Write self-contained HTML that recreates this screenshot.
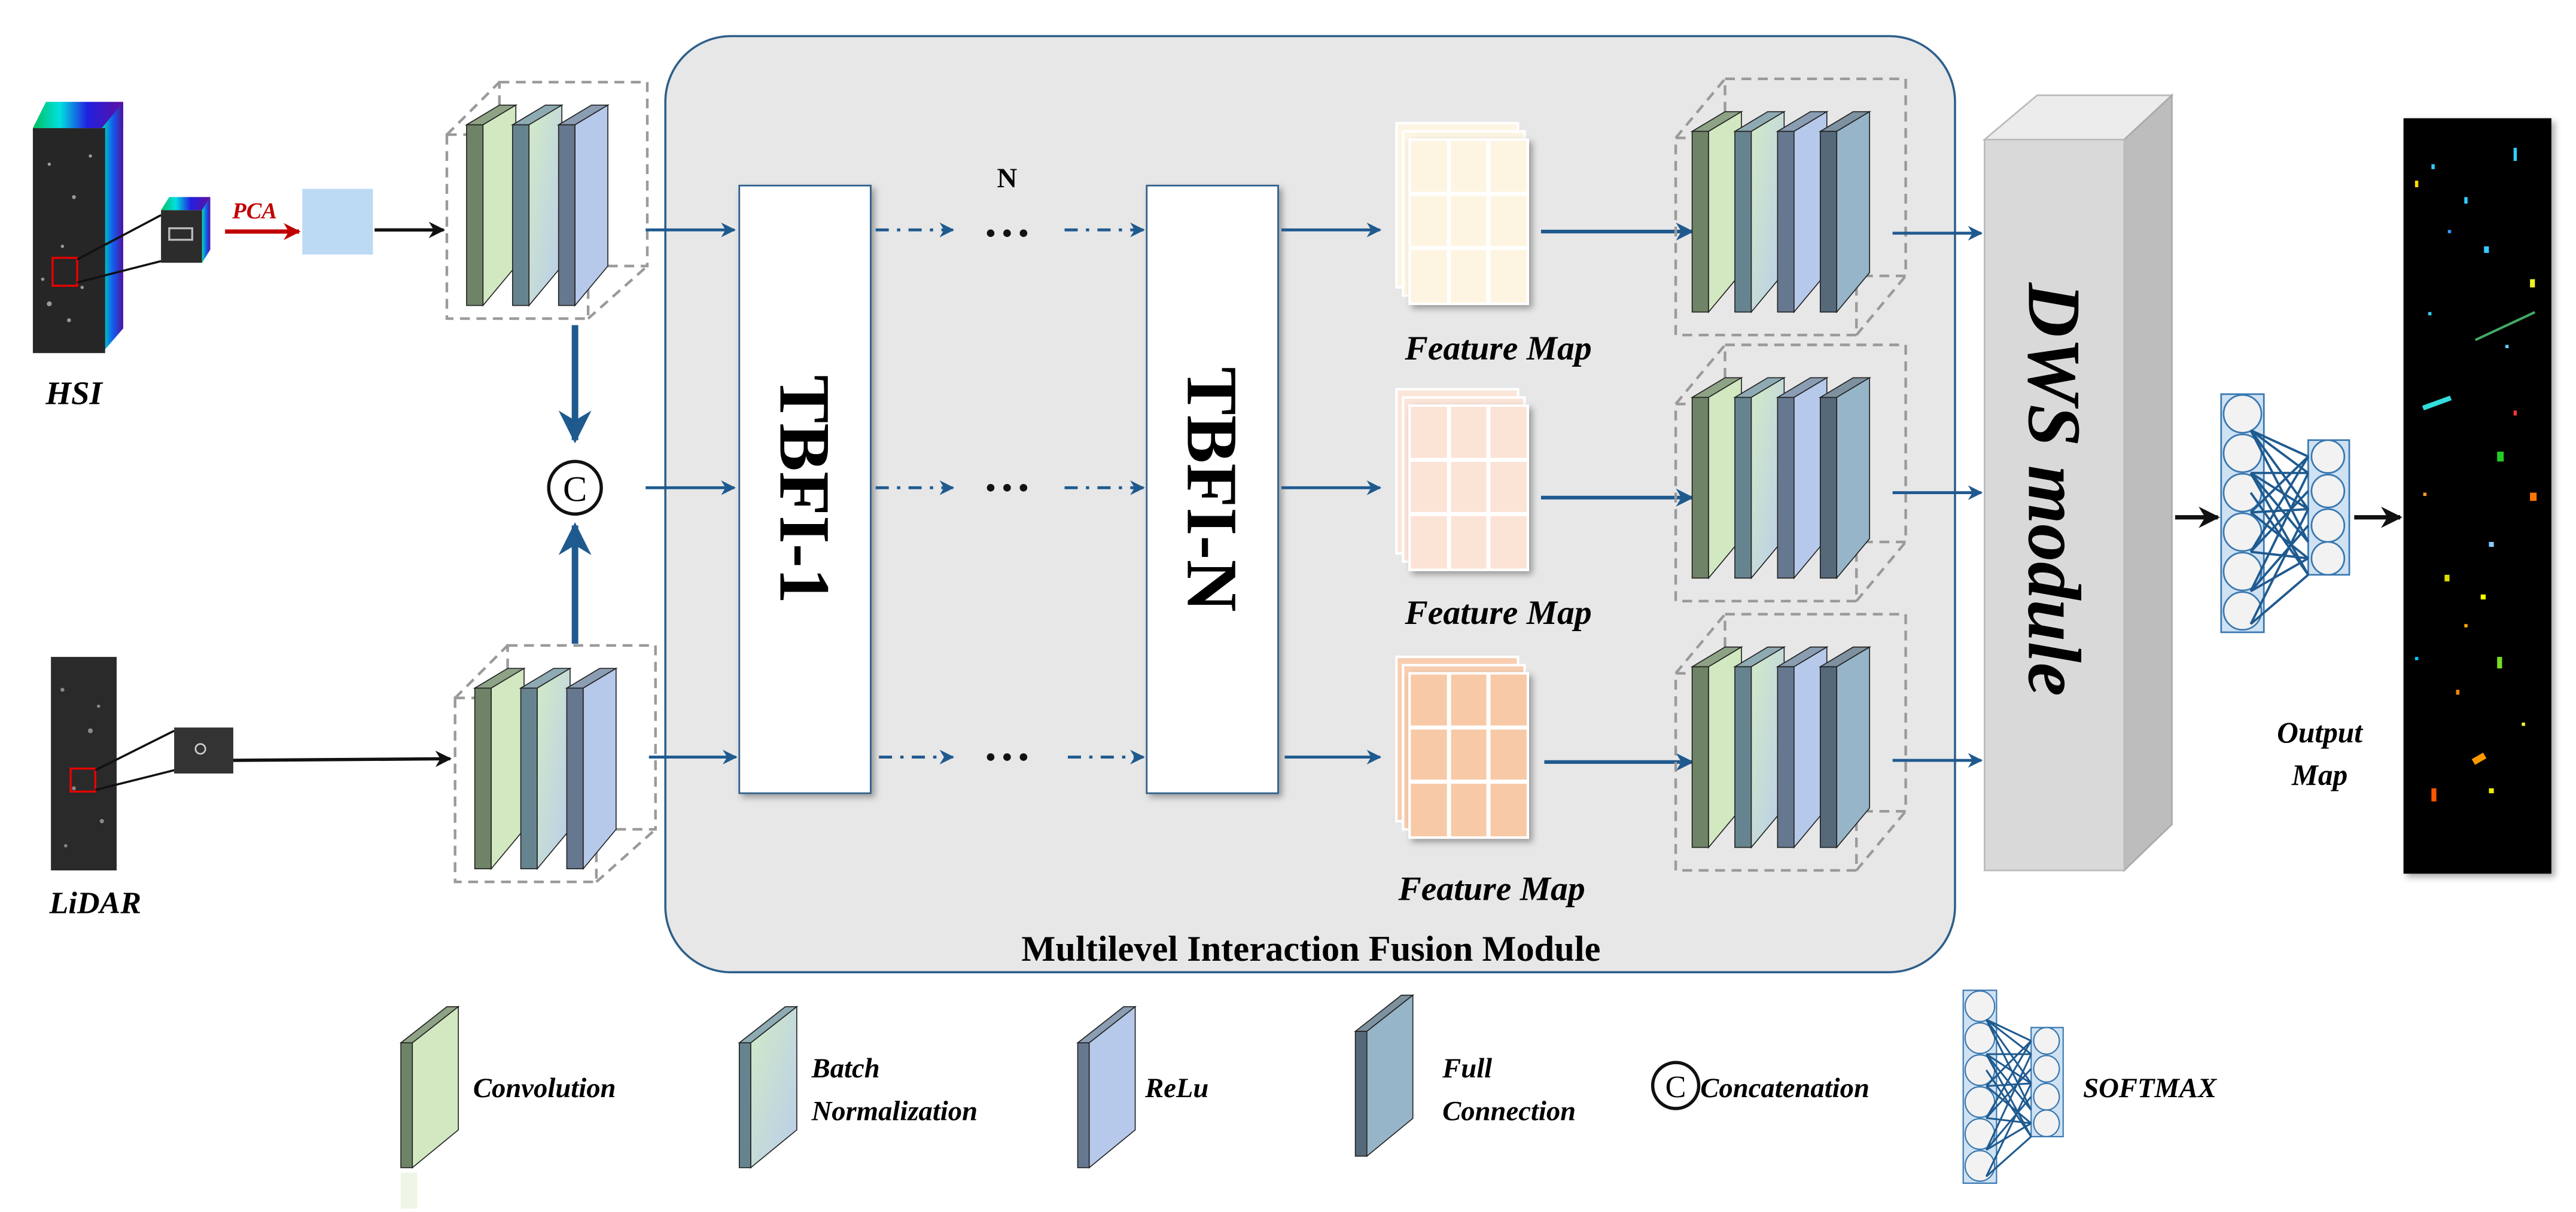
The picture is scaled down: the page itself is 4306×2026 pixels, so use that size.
<!DOCTYPE html>
<html><head><meta charset="utf-8"><style>
html,body{margin:0;padding:0;background:#fff;}
svg{display:block;}
text{font-family:"Liberation Serif",serif;}
</style></head><body>
<svg width="4306" height="2026" viewBox="0 0 1568 738" preserveAspectRatio="none" xmlns="http://www.w3.org/2000/svg">
<defs>
<marker id="ab" viewBox="0 0 10 10" refX="9" refY="5" markerWidth="5" markerHeight="5" orient="auto"><path d="M0,0 L10,5 L0,10 L3,5 z" fill="#1f5a8f"/></marker>
<marker id="ak" viewBox="0 0 10 10" refX="9" refY="5" markerWidth="5" markerHeight="5" orient="auto"><path d="M0,0 L10,5 L0,10 L3,5 z" fill="#111"/></marker>
<marker id="ar" viewBox="0 0 10 10" refX="9" refY="5" markerWidth="4" markerHeight="4" orient="auto"><path d="M0,0 L10,5 L0,10 L3,5 z" fill="#c00000"/></marker>
<linearGradient id="gbn" x1="0" y1="0" x2="1" y2="1"><stop offset="0" stop-color="#d2eac6"/><stop offset="1" stop-color="#b9cdea"/></linearGradient>
<linearGradient id="rain" x1="0" y1="0" x2="1" y2="0"><stop offset="0" stop-color="#00c060"/><stop offset=".3" stop-color="#00e0e0"/><stop offset=".6" stop-color="#2020e0"/><stop offset="1" stop-color="#6010a0"/></linearGradient>
<linearGradient id="rainv" x1="0" y1="0" x2="1" y2="0"><stop offset="0" stop-color="#00e0b0"/><stop offset=".5" stop-color="#1060f0"/><stop offset="1" stop-color="#5010a0"/></linearGradient>
<g id="sc"><polygon points="0,12 20,0 30,0 10,12" fill="#8ea285" stroke="#222" stroke-width=".6"/><rect x="0" y="12" width="10" height="110" fill="#6f8466" stroke="#222" stroke-width=".6"/><polygon points="10,12 30,0 30,98 10,122" fill="#d1e8c1" stroke="#222" stroke-width=".6"/></g>
<g id="sb"><polygon points="0,12 20,0 30,0 10,12" fill="#8eaab3" stroke="#222" stroke-width=".6"/><rect x="0" y="12" width="10" height="110" fill="#66848f" stroke="#222" stroke-width=".6"/><polygon points="10,12 30,0 30,98 10,122" fill="url(#gbn)" stroke="#222" stroke-width=".6"/></g>
<g id="sr"><polygon points="0,12 20,0 30,0 10,12" fill="#8b9db3" stroke="#222" stroke-width=".6"/><rect x="0" y="12" width="10" height="110" fill="#667890" stroke="#222" stroke-width=".6"/><polygon points="10,12 30,0 30,98 10,122" fill="#b6c9ea" stroke="#222" stroke-width=".6"/></g>
<g id="sf"><polygon points="0,12 20,0 30,0 10,12" fill="#7d919f" stroke="#222" stroke-width=".6"/><rect x="0" y="12" width="10" height="110" fill="#56697a" stroke="#222" stroke-width=".6"/><polygon points="10,12 30,0 30,98 10,122" fill="#97b5c9" stroke="#222" stroke-width=".6"/></g>
<g id="dash3" fill="none" stroke="#9a9a9a" stroke-width="1.6" stroke-dasharray="6,4"><rect x="0" y="32" width="86" height="112"/><rect x="32" y="0" width="90" height="112"/><line x1="0" y1="32" x2="32" y2="0"/><line x1="86" y1="144" x2="122" y2="112"/></g>
<g id="stack3"><use href="#dash3"/><use href="#sc" x="12" y="14"/><use href="#sb" x="40" y="14"/><use href="#sr" x="68" y="14"/></g>
<g id="stack4"><g fill="none" stroke="#9a9a9a" stroke-width="1.6" stroke-dasharray="6,4"><rect x="0" y="36" width="110" height="120"/><rect x="30" y="0" width="110" height="120"/><line x1="0" y1="36" x2="30" y2="0"/><line x1="110" y1="156" x2="140" y2="120"/></g>
<use href="#sc" x="10" y="20"/><use href="#sb" x="36" y="20"/><use href="#sr" x="62" y="20"/><use href="#sf" x="88" y="20"/></g>
<g id="nn"><rect x="0" y="0" width="26" height="145" fill="#cfe2f3" stroke="#3a78b0" stroke-width="1"/><rect x="53" y="28" width="25" height="82" fill="#cfe2f3" stroke="#3a78b0" stroke-width="1"/>
<g fill="#f2f2f2" stroke="#3a78b0" stroke-width="1"><circle cx="13" cy="12" r="11.5"/><circle cx="13" cy="36" r="11.5"/><circle cx="13" cy="60" r="11.5"/><circle cx="13" cy="84" r="11.5"/><circle cx="13" cy="108" r="11.5"/><circle cx="13" cy="132" r="11.5"/><circle cx="65" cy="38" r="10"/><circle cx="65" cy="59" r="10"/><circle cx="65" cy="80" r="10"/><circle cx="65" cy="100" r="10"/></g>
<g stroke="#1f5a8f" stroke-width="1.4"><path d="M18,22 L53,48 M18,22 L53,70 M18,22 L53,90 M18,48 L53,48 M18,48 L53,70 M18,48 L53,90 M18,48 L53,110 M18,72 L53,38 M18,72 L53,70 M18,72 L53,100 M18,96 L53,38 M18,96 L53,59 M18,96 L53,100 M18,120 L53,48 M18,120 L53,80 M18,120 L53,100 M18,140 L53,70 M18,140 L53,110 M18,22 L53,38 M18,60 L53,110"/></g></g>
<g id="grid"><line x1="24" y1="0" x2="24" y2="100" stroke="#fff" stroke-width="2.5"/><line x1="48" y1="0" x2="48" y2="100" stroke="#fff" stroke-width="2.5"/><line x1="0" y1="33" x2="72" y2="33" stroke="#fff" stroke-width="2.5"/><line x1="0" y1="66" x2="72" y2="66" stroke="#fff" stroke-width="2.5"/></g>
<filter id="sh" x="-10%" y="-10%" width="130%" height="130%"><feDropShadow dx="2" dy="2" stdDeviation="2" flood-color="#000" flood-opacity=".35"/></filter>
</defs>

<!-- main module -->
<rect x="405" y="22" width="785" height="570" rx="40" fill="#e7e7e7" stroke="#2d5f8a" stroke-width="1.3"/>
<text x="798" y="585" text-anchor="middle" font-size="22" font-weight="bold">Multilevel Interaction Fusion Module</text>

<!-- HSI image -->
<polygon points="20,78 28,62 75,62 68,78" fill="url(#rain)"/>
<polygon points="62,78 75,62 75,200 62,215" fill="url(#rainv)"/>
<rect x="20" y="78" width="44" height="137" fill="#262626"/>
<g fill="#9a9a9a"><circle cx="30" cy="100" r="1"/><circle cx="45" cy="120" r="1.2"/><circle cx="38" cy="150" r="1"/><circle cx="30" cy="185" r="1.5"/><circle cx="42" cy="195" r="1.2"/><circle cx="50" cy="175" r="1"/><circle cx="26" cy="170" r="1"/><circle cx="55" cy="95" r="1"/></g>
<rect x="32" y="157" width="15" height="17" fill="none" stroke="#e00" stroke-width="1.2"/>
<polygon points="98,128 103,120 128,120 123,128" fill="url(#rain)"/>
<polygon points="123,128 128,120 128,152 123,160" fill="url(#rainv)"/>
<rect x="98" y="128" width="25" height="32" fill="#2c2c2c"/>
<rect x="103" y="139" width="14" height="7" fill="none" stroke="#bbb" stroke-width="1.2"/>
<line x1="47" y1="158" x2="98" y2="131" stroke="#111" stroke-width="1.3"/>
<line x1="47" y1="172" x2="98" y2="159" stroke="#111" stroke-width="1.3"/>
<text x="45" y="246" text-anchor="middle" font-size="20" font-weight="bold" font-style="italic">HSI</text>
<text x="155" y="133" text-anchor="middle" font-size="14" font-weight="bold" font-style="italic" fill="#c00000">PCA</text>
<line x1="137" y1="141" x2="182" y2="141" stroke="#c00000" stroke-width="2.6" marker-end="url(#ar)"/>
<rect x="184" y="115" width="43" height="40" fill="#bcdaf3"/>
<line x1="228" y1="140" x2="270" y2="140" stroke="#111" stroke-width="2" marker-end="url(#ak)"/>

<!-- LiDAR -->
<rect x="31" y="400" width="40" height="130" fill="#2a2a2a"/>
<g fill="#8a8a8a"><circle cx="38" cy="420" r="1.2"/><circle cx="55" cy="445" r="1.5"/><circle cx="45" cy="480" r="1.2"/><circle cx="62" cy="500" r="1.3"/><circle cx="40" cy="515" r="1"/><circle cx="60" cy="430" r="1"/></g>
<rect x="43" y="468" width="15" height="14" fill="none" stroke="#e00" stroke-width="1.2"/>
<rect x="106" y="443" width="36" height="28" fill="#333"/>
<circle cx="122" cy="456" r="3" fill="none" stroke="#ccc" stroke-width="1"/>
<line x1="58" y1="469" x2="106" y2="445" stroke="#111" stroke-width="1.3"/>
<line x1="58" y1="481" x2="106" y2="469" stroke="#111" stroke-width="1.3"/>
<text x="58" y="556" text-anchor="middle" font-size="19" font-weight="bold" font-style="italic">LiDAR</text>
<line x1="142" y1="463" x2="274" y2="462" stroke="#111" stroke-width="2" marker-end="url(#ak)"/>

<!-- stacks left -->
<use href="#stack3" x="272" y="50"/>
<use href="#stack3" x="277" y="393"/>
<line x1="350" y1="198" x2="350" y2="268" stroke="#1f5a8f" stroke-width="4" marker-end="url(#ab)"/>
<line x1="350" y1="392" x2="350" y2="320" stroke="#1f5a8f" stroke-width="4" marker-end="url(#ab)"/>
<circle cx="350" cy="297" r="16" fill="#fff" stroke="#111" stroke-width="2"/>
<text x="350" y="305" text-anchor="middle" font-size="22" font-family="Liberation Sans">C</text>

<!-- arrows into TBFI-1 -->
<g stroke="#1f5a8f" stroke-width="1.8" marker-end="url(#ab)">
<line x1="393" y1="140" x2="447" y2="140"/><line x1="393" y1="297" x2="447" y2="297"/><line x1="395" y1="461" x2="448" y2="461"/>
</g>
<rect x="450" y="113" width="80" height="370" fill="#fff" stroke="#2d5f8a" stroke-width="1" filter="url(#sh)"/>
<rect x="698" y="113" width="80" height="370" fill="#fff" stroke="#2d5f8a" stroke-width="1" filter="url(#sh)"/>
<text transform="translate(490,298) rotate(90)" text-anchor="middle" font-size="44" font-weight="bold" dy="15">TBFI-1</text>
<text transform="translate(738,298) rotate(90)" text-anchor="middle" font-size="44" font-weight="bold" dy="15">TBFI-N</text>
<text x="613" y="114" text-anchor="middle" font-size="17" font-weight="bold">N</text>
<g fill="#111"><circle cx="603" cy="142" r="2.3"/><circle cx="613" cy="142" r="2.3"/><circle cx="623" cy="142" r="2.3"/>
<circle cx="603" cy="297" r="2.3"/><circle cx="613" cy="297" r="2.3"/><circle cx="623" cy="297" r="2.3"/>
<circle cx="603" cy="461" r="2.3"/><circle cx="613" cy="461" r="2.3"/><circle cx="623" cy="461" r="2.3"/></g>
<g stroke="#1f5a8f" stroke-width="1.8" stroke-dasharray="8,5,2,5" marker-end="url(#ab)">
<line x1="533" y1="140" x2="580" y2="140"/><line x1="533" y1="297" x2="580" y2="297"/><line x1="535" y1="461" x2="580" y2="461"/>
<line x1="648" y1="140" x2="696" y2="140"/><line x1="648" y1="297" x2="696" y2="297"/><line x1="650" y1="461" x2="696" y2="461"/>
</g>
<g stroke="#1f5a8f" stroke-width="1.8" marker-end="url(#ab)">
<line x1="780" y1="140" x2="840" y2="140"/><line x1="780" y1="297" x2="840" y2="297"/><line x1="782" y1="461" x2="840" y2="461"/>
</g>

<!-- feature maps -->
<g>
<rect x="850" y="75" width="74" height="100" fill="#fdf5e3" stroke="#fff" stroke-width="1.5"/>
<rect x="854" y="80" width="74" height="100" fill="#fdf5e3" stroke="#fff" stroke-width="1.5"/>
<rect x="858" y="85" width="72" height="100" fill="#fdf5e1" stroke="#fff" stroke-width="1.5" filter="url(#sh)"/>
<use href="#grid" x="858" y="85"/>
<rect x="850" y="237" width="74" height="100" fill="#fbe5d9" stroke="#fff" stroke-width="1.5"/>
<rect x="854" y="242" width="74" height="100" fill="#fbe5d9" stroke="#fff" stroke-width="1.5"/>
<rect x="858" y="247" width="72" height="100" fill="#fbe3d6" stroke="#fff" stroke-width="1.5" filter="url(#sh)"/>
<use href="#grid" x="858" y="247"/>
<rect x="850" y="400" width="74" height="100" fill="#f8cdb0" stroke="#fff" stroke-width="1.5"/>
<rect x="854" y="405" width="74" height="100" fill="#f8cdb0" stroke="#fff" stroke-width="1.5"/>
<rect x="858" y="410" width="72" height="100" fill="#f8c9a7" stroke="#fff" stroke-width="1.5" filter="url(#sh)"/>
<use href="#grid" x="858" y="410"/>
</g>
<g font-size="21" font-weight="bold" font-style="italic" text-anchor="middle">
<text x="912" y="219">Feature Map</text><text x="912" y="380">Feature Map</text><text x="908" y="548">Feature Map</text></g>
<g stroke="#1f5a8f" stroke-width="2.2" marker-end="url(#ab)">
<line x1="938" y1="141" x2="1030" y2="141"/><line x1="938" y1="303" x2="1030" y2="303"/><line x1="940" y1="464" x2="1030" y2="464"/>
</g>
<use href="#stack4" x="1020" y="48"/>
<use href="#stack4" x="1020" y="210"/>
<use href="#stack4" x="1020" y="374"/>
<g stroke="#1f5a8f" stroke-width="1.8" marker-end="url(#ab)">
<line x1="1152" y1="142" x2="1206" y2="142"/><line x1="1152" y1="300" x2="1206" y2="300"/><line x1="1152" y1="463" x2="1206" y2="463"/>
</g>

<!-- DWS -->
<polygon points="1208,85 1240,58 1322,58 1293,85" fill="#ececec" stroke="#bbb" stroke-width="1"/>
<polygon points="1293,85 1322,58 1322,502 1293,530" fill="#bdbdbd" stroke="#aaa" stroke-width="1"/>
<rect x="1208" y="85" width="85" height="445" fill="#d9d9d9" stroke="#bbb" stroke-width="1"/>
<text transform="translate(1250,298) rotate(90)" text-anchor="middle" font-size="46" font-weight="bold" font-style="italic" dy="15">DWS module</text>
<line x1="1324" y1="315" x2="1350" y2="315" stroke="#111" stroke-width="2.6" marker-end="url(#ak)"/>
<use href="#nn" x="1352" y="240"/>
<line x1="1433" y1="315" x2="1461" y2="315" stroke="#111" stroke-width="2.6" marker-end="url(#ak)"/>
<rect x="1463" y="72" width="90" height="460" fill="#000" filter="url(#sh)"/>
<g>
<rect x="1480" y="100" width="2" height="3" fill="#3cf"/><rect x="1500" y="120" width="2" height="4" fill="#3cf"/><rect x="1512" y="150" width="3" height="4" fill="#3cf"/><rect x="1530" y="90" width="2" height="8" fill="#3cf"/><rect x="1470" y="110" width="2" height="4" fill="#fd0"/><rect x="1540" y="170" width="3" height="5" fill="#ee2"/><rect x="1474" y="245" width="18" height="3" fill="#3dd" transform="rotate(-20 1480 245)"/><rect x="1505" y="200" width="40" height="1.5" fill="#4a6" transform="rotate(-25 1520 200)"/><rect x="1520" y="275" width="4" height="6" fill="#2c2"/><rect x="1540" y="300" width="4" height="5" fill="#f70"/><rect x="1515" y="330" width="3" height="3" fill="#8cf"/><rect x="1488" y="350" width="3" height="4" fill="#dd0"/><rect x="1510" y="362" width="3" height="3" fill="#ff0"/><rect x="1520" y="400" width="3" height="7" fill="#7d2"/><rect x="1505" y="460" width="8" height="4" fill="#f90" transform="rotate(-30 1509 462)"/><rect x="1480" y="480" width="3" height="8" fill="#f50"/><rect x="1515" y="480" width="3" height="3" fill="#ee0"/><rect x="1495" y="420" width="2" height="3" fill="#f80"/><rect x="1530" y="250" width="2" height="3" fill="#f33"/><rect x="1475" y="300" width="2" height="2" fill="#f93"/>
<rect x="1490" y="140" width="2" height="2" fill="#39f"/><rect x="1478" y="190" width="2" height="2" fill="#3cf"/><rect x="1525" y="210" width="2" height="2" fill="#6cf"/><rect x="1500" y="380" width="2" height="2" fill="#fa0"/><rect x="1535" y="440" width="2" height="2" fill="#ff3"/><rect x="1470" y="400" width="2" height="2" fill="#0cf"/></g>
<text x="1412" y="452" text-anchor="middle" font-size="18" font-weight="bold" font-style="italic">Output</text>
<text x="1412" y="478" text-anchor="middle" font-size="18" font-weight="bold" font-style="italic">Map</text>

<!-- legend -->
<g stroke="#222" stroke-width=".6">
<polygon points="244,635 251,635 279,613 272,613" fill="#8ea285"/><rect x="244" y="635" width="7" height="76" fill="#6f8466"/><polygon points="251,635 279,613 279,688 251,711" fill="#d1e8c1"/>
<polygon points="450,635 457,635 485,613 478,613" fill="#8eaab3"/><rect x="450" y="635" width="7" height="76" fill="#66848f"/><polygon points="457,635 485,613 485,688 457,711" fill="url(#gbn)"/>
<polygon points="656,635 663,635 691,613 684,613" fill="#8b9db3"/><rect x="656" y="635" width="7" height="76" fill="#667890"/><polygon points="663,635 691,613 691,688 663,711" fill="#b6c9ea"/>
<polygon points="825,628 832,628 860,606 853,606" fill="#7d919f"/><rect x="825" y="628" width="7" height="76" fill="#56697a"/><polygon points="832,628 860,606 860,681 832,704" fill="#97b5c9"/>
</g>
<rect x="244" y="714" width="10" height="22" fill="#eef6e6"/>
<g font-size="17" font-weight="bold" font-style="italic">
<text x="288" y="668">Convolution</text>
<text x="494" y="656">Batch</text><text x="494" y="682">Normalization</text>
<text x="697" y="668">ReLu</text>
<text x="878" y="656">Full</text><text x="878" y="682">Connection</text>
<text x="1035" y="668">Concatenation</text>
<text x="1268" y="668">SOFTMAX</text>
</g>
<circle cx="1020" cy="661" r="14" fill="#fff" stroke="#111" stroke-width="2"/>
<text x="1020" y="668" text-anchor="middle" font-size="19" font-family="Liberation Sans">C</text>
<g transform="translate(1195,603) scale(0.78,0.81)"><use href="#nn"/></g>
</svg>
</body></html>
